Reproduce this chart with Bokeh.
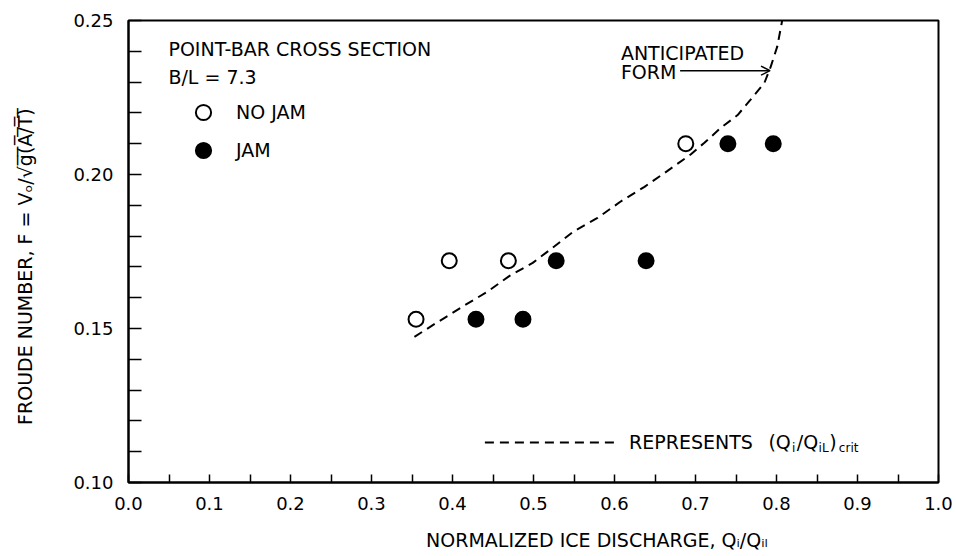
from bokeh.plotting import figure
from bokeh.models import Range1d, FixedTicker, Arrow, OpenHead, Label, Legend, LegendItem
from bokeh.embed import file_html
from bokeh.resources import INLINE

# ---- data ----
no_jam_x = [0.355, 0.396, 0.469, 0.688]
no_jam_y = [0.153, 0.172, 0.172, 0.210]
jam_x = [0.429, 0.487, 0.528, 0.639, 0.740, 0.796]
jam_y = [0.153, 0.153, 0.172, 0.172, 0.210, 0.210]

curve_x = [0.353, 0.380, 0.413, 0.444, 0.470, 0.499, 0.526, 0.550, 0.579, 0.608,
           0.637, 0.665, 0.694, 0.711, 0.731, 0.752, 0.768, 0.785, 0.793, 0.801, 0.807]
curve_y = [0.1473, 0.1518, 0.1572, 0.1621, 0.1670, 0.1713, 0.1767, 0.1816, 0.1859, 0.1913,
           0.1960, 0.2011, 0.2065, 0.2103, 0.2151, 0.2193, 0.2243, 0.2297, 0.2351, 0.2416, 0.2500]

x_ticks = [0.0, 0.1, 0.2, 0.3, 0.4, 0.5, 0.6, 0.7, 0.8, 0.9, 1.0]
x_tick_labels = ["0.0", "0.1", "0.2", "0.3", "0.4", "0.5", "0.6", "0.7", "0.8", "0.9", "1.0"]
x_minor = [0.05, 0.15, 0.25, 0.35, 0.45, 0.55, 0.65, 0.75, 0.85, 0.95]
y_ticks = [0.10, 0.15, 0.20, 0.25]
y_tick_labels = ["0.10", "0.15", "0.20", "0.25"]
y_minor = [0.11, 0.12, 0.13, 0.14, 0.16, 0.17, 0.18, 0.19, 0.21, 0.22, 0.23, 0.24]

FONT = "DejaVu Sans"
NB = "\u00a0"

p = figure(width=956, height=556, x_range=Range1d(0.0, 1.0), y_range=Range1d(0.10, 0.25),
           output_backend="svg", toolbar_location=None,
           min_border_left=128, min_border_right=18, min_border_top=20, min_border_bottom=74,
           background_fill_color="white", border_fill_color="white")
p.grid.visible = False
p.outline_line_color = "black"
p.outline_line_width = 2

# x axis
xa = p.xaxis[0]
xa.ticker = FixedTicker(ticks=x_ticks, minor_ticks=x_minor)
xa.major_label_overrides = {t: l for t, l in zip(x_ticks, x_tick_labels)}
xa.major_tick_in = 8
xa.major_tick_out = 0
xa.minor_tick_in = 8
xa.minor_tick_out = 0
xa.axis_line_width = 2
xa.major_tick_line_width = 1.5
xa.minor_tick_line_width = 1.5
xa.major_label_standoff = 14
xa.major_label_text_font = FONT
xa.major_label_text_font_size = "18px"
xa.major_label_text_color = "black"
xa.axis_label = NB * 21 + "NORMALIZED ICE DISCHARGE, Qᵢ/Qᵢₗ"
xa.axis_label_text_font = FONT
xa.axis_label_text_font_size = "19px"
xa.axis_label_text_font_style = "normal"
xa.axis_label_text_color = "black"
xa.axis_label_standoff = 16

# y axis
ya = p.yaxis[0]
ya.ticker = FixedTicker(ticks=y_ticks, minor_ticks=y_minor)
ya.major_label_overrides = {t: l for t, l in zip(y_ticks, y_tick_labels)}
ya.major_tick_in = 13
ya.major_tick_out = 0
ya.minor_tick_in = 13
ya.minor_tick_out = 0
ya.axis_line_width = 2
ya.major_tick_line_width = 1.5
ya.minor_tick_line_width = 1.5
ya.major_label_standoff = 15
ya.major_label_text_font = FONT
ya.major_label_text_font_size = "18px"
ya.major_label_text_color = "black"
ya.axis_label = "FROUDE NUMBER, F = Vₒ/√g̅(̅A̅/̅T̅)̅" + NB * 5
ya.axis_label_text_font = FONT
ya.axis_label_text_font_size = "19px"
ya.axis_label_text_font_style = "normal"
ya.axis_label_text_color = "black"
ya.axis_label_standoff = 34

# dashed curve
p.line(curve_x, curve_y, line_color="black", line_width=2, line_dash="9 6")

# points
r_open = p.scatter(no_jam_x, no_jam_y, size=15, marker="circle", fill_color="white",
                   line_color="black", line_width=2)
r_fill = p.scatter(jam_x, jam_y, size=15, marker="circle", fill_color="black",
                   line_color="black", line_width=2)

legend = Legend(items=[LegendItem(label="NO JAM", renderers=[r_open]),
                       LegendItem(label="JAM", renderers=[r_fill])],
                location=(56, 313), padding=0, margin=0, spacing=-6,
                glyph_width=38, glyph_height=38, label_height=20, label_standoff=14,
                border_line_color=None, background_fill_alpha=0,
                label_text_font=FONT, label_text_font_size="19px",
                label_text_color="black")
p.add_layout(legend, "center")

# annotations
def lab(x, y, t, size="19px", **kw):
    p.add_layout(Label(x=x, y=y, text=t, text_font=FONT, text_font_size=size,
                       text_baseline="middle", text_color="black", **kw))

lab(0.0493, 0.2406, "POINT-BAR CROSS  SECTION")
lab(0.0493, 0.2318, "B/L = 7.3")
lab(0.6079, 0.2396, "ANTICIPATED")
lab(0.6079, 0.2334, "FORM")
p.add_layout(Arrow(end=OpenHead(size=9, line_width=1.5, line_color="black"),
                   x_start=0.681, y_start=0.2337, x_end=0.792, y_end=0.2337,
                   line_width=1.5, line_color="black"))

# key for dashed line
key_y = 0.113
sub_y = 0.1112
p.line([0.44, 0.60], [key_y, key_y], line_color="black", line_width=2, line_dash="9 6")
lab(0.618, key_y, "REPRESENTS")
lab(0.790, key_y, "(Q")
lab(0.819, sub_y, "i", size="12px")
lab(0.825, key_y, "/Q")
lab(0.852, sub_y, "iL", size="12px")
lab(0.865, key_y, ")")
lab(0.877, sub_y, "crit", size="12px")

open("out.html", "w").write(file_html(p, INLINE))
